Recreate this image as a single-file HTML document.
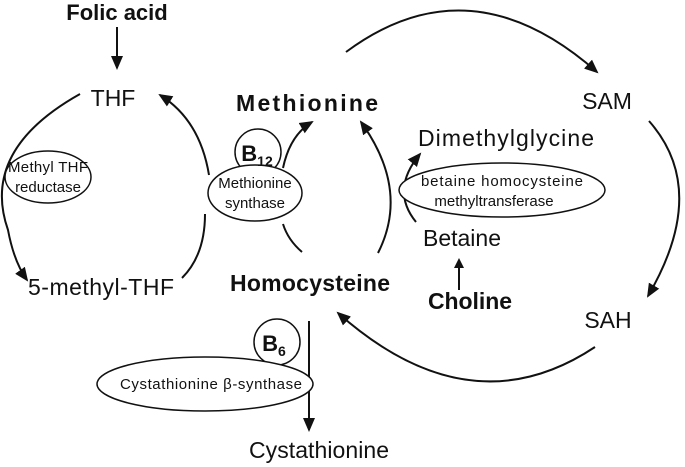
<!DOCTYPE html>
<html><head><style>
body{margin:0;background:#fff}
svg{display:block}
text{font-family:"Liberation Sans",sans-serif;fill:#111}
.b{font-weight:bold}
</style></head><body>
<svg width="685" height="467" viewBox="0 0 685 467" xmlns="http://www.w3.org/2000/svg">
<defs><marker id="a" markerWidth="10" markerHeight="10" refX="8" refY="5" orient="auto" markerUnits="userSpaceOnUse"><path d="M0,0 L10,5 L0,10 z" fill="#111"/></marker>
<marker id="A" markerWidth="14" markerHeight="14" refX="12" refY="7" orient="auto" markerUnits="userSpaceOnUse"><path d="M0,1 L14,7 L0,13 z" fill="#111"/></marker></defs>
<g fill="none" stroke="#111" stroke-width="2">
<line x1="117" y1="27" x2="117" y2="68" marker-end="url(#A)"/>
<path d="M80,94 Q-20,150 8,230 Q14,262 27,280" marker-end="url(#A)"/>
<path d="M209,175 Q200,120 160,95" marker-end="url(#A)"/>
<path d="M205,214 Q205,255 182,278"/>
<path d="M283,168 Q290,135 312,122" marker-end="url(#A)"/>
<path d="M283,224 Q288,240 302,252"/>
<path d="M346,52 Q470,-40 597,72" marker-end="url(#A)"/>
<path d="M649,121 Q710,190 648,296" marker-end="url(#A)"/>
<path d="M595,347 Q470,430 338,313" marker-end="url(#A)"/>
<path d="M378,253 Q410,190 361,122" marker-end="url(#A)"/>
<path d="M416,222 Q390,190 420,154" marker-end="url(#A)"/>
<line x1="459" y1="290" x2="459" y2="260" marker-end="url(#a)"/>
<line x1="309" y1="321" x2="309" y2="430" marker-end="url(#A)"/>
</g>
<g fill="#fff" stroke="#111" stroke-width="1.5">
<ellipse cx="48" cy="177" rx="43" ry="26"/>
<circle cx="258" cy="152" r="23"/>
<ellipse cx="255" cy="193" rx="47" ry="28"/>
<ellipse cx="502" cy="190" rx="103" ry="27"/>
<circle cx="277" cy="342" r="23"/>
<ellipse cx="205" cy="384" rx="108" ry="27"/>
</g>
<text x="117" y="20" class="b" font-size="22" text-anchor="middle">Folic acid</text>
<text x="113" y="106" font-size="23" text-anchor="middle">THF</text>
<text x="48" y="172" font-size="15" text-anchor="middle" textLength="80">Methyl THF</text>
<text x="48" y="192" font-size="15" text-anchor="middle">reductase</text>
<text x="101" y="295" font-size="23" text-anchor="middle" textLength="146">5-methyl-THF</text>
<text x="257" y="161" class="b" font-size="22" text-anchor="middle">B<tspan font-size="14" dy="5">12</tspan></text>
<text x="255" y="188" font-size="15" text-anchor="middle">Methionine</text>
<text x="255" y="208" font-size="15" text-anchor="middle">synthase</text>
<text x="307" y="111" class="b" font-size="23" text-anchor="middle" textLength="142">Methionine</text>
<text x="607" y="109" font-size="23" text-anchor="middle">SAM</text>
<text x="608" y="328" font-size="23" text-anchor="middle">SAH</text>
<text x="506" y="146" font-size="23" text-anchor="middle" textLength="176">Dimethylglycine</text>
<text x="502" y="186" font-size="15" text-anchor="middle" textLength="162">betaine homocysteine</text>
<text x="494" y="206" font-size="15" text-anchor="middle">methyltransferase</text>
<text x="462" y="246" font-size="23" text-anchor="middle">Betaine</text>
<text x="470" y="309" class="b" font-size="23" text-anchor="middle" textLength="84">Choline</text>
<text x="310" y="291" class="b" font-size="23" text-anchor="middle" textLength="160">Homocysteine</text>
<text x="274" y="351" class="b" font-size="22" text-anchor="middle">B<tspan font-size="14" dy="5">6</tspan></text>
<text x="211" y="389" font-size="15" text-anchor="middle" textLength="182">Cystathionine β-synthase</text>
<text x="319" y="458" font-size="23" text-anchor="middle" textLength="140">Cystathionine</text>
</svg>
</body></html>
